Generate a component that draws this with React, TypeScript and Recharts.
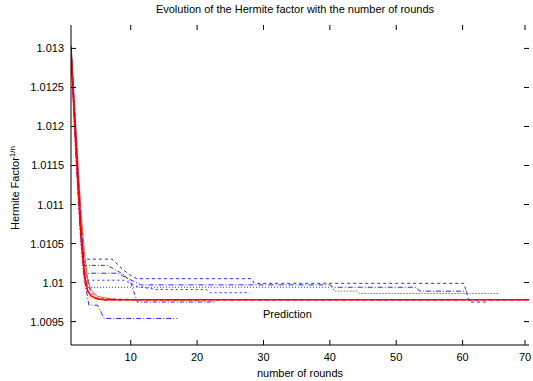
import React from 'react';
import { LineChart, Line, XAxis, YAxis, ReferenceDot } from 'recharts';

// plot frame (px) – gnuplot-like box
const W = 533;
const H = 381;
const PL = 71;
const PR = 529;
const PT = 25;
const PB = 345;

const xTicks = [10, 20, 30, 40, 50, 60, 70];
const yTicks = [1.0095, 1.01, 1.0105, 1.011, 1.0115, 1.012, 1.0125, 1.013];

type Pt = { x: number; y: number };
const pts = (rows: number[][]): Pt[] => rows.map(([x, y]) => ({ x, y }));

// red runs (prediction bundle)
const red1 = pts([[1, 1.01302], [1.5, 1.01215], [2, 1.01135], [2.5, 1.01062], [3, 1.01012], [3.5, 1.0099], [4, 1.00983], [5, 1.00979], [6, 1.00978], [70, 1.00978]]);
const red2 = pts([[1, 1.01298], [1.5, 1.01228], [2, 1.01152], [2.5, 1.01085], [3, 1.0103], [3.5, 1.01], [4, 1.00988], [5, 1.0098], [6, 1.00977], [70, 1.00977]]);
const red3 = pts([[1, 1.01295], [1.5, 1.012], [2, 1.01115], [2.5, 1.01045], [3, 1.00998], [3.5, 1.00984], [4, 1.00979], [23, 1.00976]]);
const red4 = pts([[1, 1.013], [1.5, 1.01225], [2, 1.0114], [2.5, 1.0107], [3, 1.0102], [4, 1.00986], [5, 1.0098], [12, 1.00978]]);
const red5 = pts([[1, 1.01305], [1.5, 1.01235], [2, 1.0116], [2.5, 1.01092], [3, 1.0104], [3.5, 1.01005], [4, 1.0099], [5, 1.00982], [8, 1.00978]]);
const red6 = pts([[1, 1.0129], [1.5, 1.01195], [2, 1.0112], [2.5, 1.0105], [3, 1.01005], [3.5, 1.00988], [4.5, 1.0098], [6, 1.00978]]);

// blue runs (experiments)
const blue1 = pts([[1, 1.01296], [1.5, 1.01205], [2, 1.01125], [2.5, 1.01055], [3, 1.01005], [3.7, 1.00971], [5, 1.00971], [6, 1.00954], [17, 1.00954]]);
const blue2 = pts([[1, 1.01302], [1.5, 1.0123], [2, 1.0115], [2.5, 1.01075], [2.9, 1.0103], [7.2, 1.0103], [8.9, 1.01016], [10.2, 1.01008], [10.9, 1.01005], [28.2, 1.01005], [28.6, 1.00999], [60.2, 1.00999], [61, 1.00975], [63.5, 1.00975]]);
const blue3 = pts([[1, 1.01298], [1.5, 1.01218], [2, 1.0114], [2.5, 1.01065], [3.1, 1.01012], [8, 1.01012], [11.5, 1.00997], [40, 1.00997], [40.5, 1.00994], [53, 1.00994], [53.5, 1.00989], [60.7, 1.00989]]);
const blue4 = pts([[1, 1.013], [1.5, 1.0121], [2, 1.0113], [2.5, 1.0106], [3, 1.0101], [3.5, 1.00994], [40.2, 1.00994], [40.8, 1.00989], [44, 1.00989], [44.5, 1.00986], [65.5, 1.00986]]);
const blue5 = pts([[1, 1.01294], [1.5, 1.01212], [2, 1.01135], [2.5, 1.01058], [3.1, 1.01003], [9, 1.01003], [11, 1.00995], [14, 1.00991], [21.4, 1.00991], [22, 1.00987], [28, 1.00987]]);
const blue6 = pts([[1, 1.013], [1.5, 1.01222], [2, 1.01145], [2.5, 1.0107], [3, 1.01022], [6.5, 1.01022], [9, 1.0101], [10, 1.01], [11, 1.00975], [22.7, 1.00975]]);

const redSeries = [
  { id: 'r2', data: red2, dash: '4 3', width: 1, opacity: 0.55 },
  { id: 'r3', data: red3, dash: '1 2', width: 1, opacity: 0.55 },
  { id: 'r4', data: red4, dash: '3 3', width: 1, opacity: 0.6 },
  { id: 'r5', data: red5, dash: undefined, width: 1, opacity: 0.7 },
  { id: 'r6', data: red6, dash: '2 2', width: 1, opacity: 0.6 },
  { id: 'r1', data: red1, dash: undefined, width: 1.5, opacity: 1 },
];

const blueSeries = [
  { id: 'b1', data: blue1, dash: '5 2 1 2' },
  { id: 'b2', data: blue2, dash: '3 3' },
  { id: 'b3', data: blue3, dash: '5 2 1 2' },
  { id: 'b4', data: blue4, dash: '1 2' },
  { id: 'b5', data: blue5, dash: '2 3' },
  { id: 'b6', data: blue6, dash: '4 2 1 2' },
];

const YTick = (props: any) => {
  const { y, payload } = props;
  return (
    <g>
      <line x1={PL} x2={PL + 5} y1={y} y2={y} stroke="#000" />
      <line x1={PR - 5} x2={PR} y1={y} y2={y} stroke="#000" />
      <text x={PL - 7} y={y} dy={4} textAnchor="end" fontSize={11} fill="#000">
        {payload.value}
      </text>
    </g>
  );
};

const XTick = (props: any) => {
  const { x, payload } = props;
  return (
    <g>
      <line x1={x} x2={x} y1={PB} y2={PB - 5} stroke="#000" />
      <line x1={x} x2={x} y1={PT} y2={PT + 5} stroke="#000" />
      <text x={x} y={PB + 16} textAnchor="middle" fontSize={11} fill="#000">
        {payload.value}
      </text>
    </g>
  );
};

const YLabel = () => (
  <text transform="rotate(-90)" x={-188} y={19} textAnchor="middle" fontSize={11} fill="#000">
    Hermite Factor
    <tspan fontSize={8} dy={-4}>1/n</tspan>
  </text>
);

const XLabel = () => (
  <text x={(PL + PR) / 2} y={377} textAnchor="middle" fontSize={11} fill="#000">
    number of rounds
  </text>
);

export default function App() {
  return (
    <div
      style={{
        position: 'absolute',
        left: 0,
        top: 0,
        width: W,
        height: H,
        background: '#fff',
        fontFamily: '"Liberation Sans", Arial, sans-serif',
      }}
    >
      <div
        style={{
          position: 'absolute',
          top: 3,
          left: 0,
          width: 590,
          textAlign: 'center',
          fontSize: 11,
          color: '#000',
        }}
      >
        Evolution of the Hermite factor with the number of rounds
      </div>
      <LineChart width={W} height={H} margin={{ top: PT, right: W - PR, bottom: 0, left: 0 }}>
        <XAxis
          dataKey="x"
          type="number"
          domain={[1, 70]}
          ticks={xTicks}
          allowDataOverflow
          height={H - PB}
          tick={<XTick />}
          tickLine={false}
          axisLine={{ stroke: '#000' }}
          label={<XLabel />}
        />
        <XAxis xAxisId="top" dataKey="x" type="number" domain={[1, 70]} orientation="top" height={0} tick={false} tickLine={false} axisLine={{ stroke: '#000' }} />
        <YAxis
          type="number"
          domain={[1.0092, 1.0133]}
          ticks={yTicks}
          allowDataOverflow
          width={PL}
          tick={<YTick />}
          tickLine={false}
          axisLine={{ stroke: '#000' }}
          label={<YLabel />}
        />
        <YAxis yAxisId="right" type="number" domain={[1.0092, 1.0133]} orientation="right" width={0} tick={false} tickLine={false} axisLine={{ stroke: '#000' }} />
        {blueSeries.map((s) => (
          <Line
            key={s.id}
            data={s.data}
            dataKey="y"
            type="linear"
            stroke="#0000ff"
            strokeWidth={1}
            strokeDasharray={s.dash}
            strokeOpacity={0.85}
            dot={false}
            activeDot={false}
            isAnimationActive={false}
          />
        ))}
        {redSeries.map((s) => (
          <Line
            key={s.id}
            data={s.data}
            dataKey="y"
            type="linear"
            stroke="#ff0000"
            strokeWidth={s.width}
            strokeDasharray={s.dash}
            strokeOpacity={s.opacity}
            dot={false}
            activeDot={false}
            isAnimationActive={false}
          />
        ))}
        <ReferenceDot
          x={33.6}
          y={1.0096}
          r={1}
          fill="none"
          stroke="none"
          label={{ value: 'Prediction', position: 'center', fontSize: 11, fill: '#000' }}
        />
      </LineChart>
    </div>
  );
}
